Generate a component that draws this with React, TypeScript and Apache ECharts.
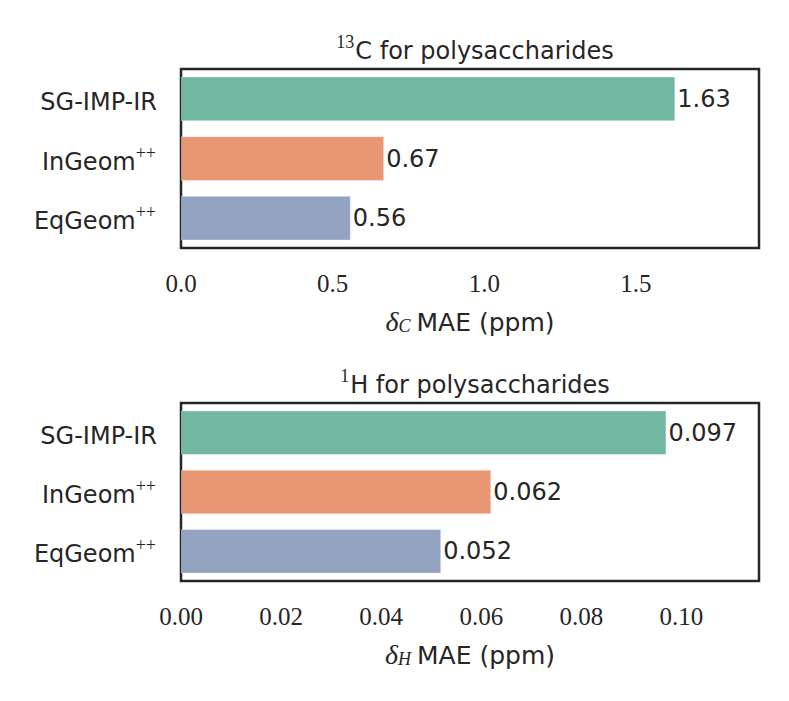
import React, { useEffect, useRef } from "react";
import * as echarts from "echarts";

const categories = ["SG-IMP-IR", "InGeom++", "EqGeom++"];
const carbonValues = [1.63, 0.67, 0.56];
const hydrogenValues = [0.097, 0.062, 0.052];
const barColors = ["#72b7a1", "#e99675", "#95a3c3"];
const carbonTitle = { sup: "13", text: "C for polysaccharides" };
const hydrogenTitle = { sup: "1", text: "H for polysaccharides" };
const carbonMax = 1.906;
const hydrogenMax = 0.1155;

const SANS = "DejaVu Sans";
const SERIF = "Liberation Serif";
const INK = "#262626";

export default function App() {
  const ref = useRef<HTMLDivElement>(null);
  useEffect(() => {
    if (!ref.current) return;
    const chart = echarts.init(ref.current, null, { renderer: "svg" });

    const supRich = {
      n: { fontFamily: SANS, fontSize: 24, fontWeight: "normal", color: INK, lineHeight: 30, verticalAlign: "bottom" },
      sup: { fontFamily: SERIF, fontSize: 18, fontWeight: "normal", color: INK, lineHeight: 30, verticalAlign: "top", padding: [0, 1, 0, 0] },
    };
    const nameRich = {
      d: { fontFamily: SERIF, fontStyle: "italic", fontSize: 28, color: INK, verticalAlign: "bottom", lineHeight: 30 },
      s: { fontFamily: SERIF, fontStyle: "italic", fontSize: 18, color: INK, verticalAlign: "bottom", lineHeight: 24, padding: [0, 6, 0, 0] },
      n: { fontFamily: SANS, fontSize: 25, color: INK, verticalAlign: "bottom", lineHeight: 30 },
    };

    const catFormatter = (v: string) =>
      v.endsWith("++") ? `{n|${v.slice(0, -2)}}{sup|++}` : `{n|${v}}`;

    const grids = [
      { left: 181, right: 30, top: 69, height: 179 },
      { left: 181, right: 30, top: 403, height: 178 },
    ].map((g) => ({ ...g, show: true, borderColor: INK, borderWidth: 2.5, backgroundColor: "#fff" }));

    const xAxis = [
      { max: carbonMax, interval: 0.5, dec: 1, sub: "C" },
      { max: hydrogenMax, interval: 0.02, dec: 2, sub: "H" },
    ].map((a, i) => ({
      type: "value",
      gridIndex: i,
      min: 0,
      max: a.max,
      interval: a.interval,
      splitLine: { show: false },
      axisLine: { show: false },
      axisTick: { show: false },
      axisLabel: {
        margin: 23,
        showMaxLabel: false,
        fontFamily: SERIF,
        fontSize: 25,
        color: INK,
        formatter: (v: number) => v.toFixed(a.dec),
      },
      name: `{d|δ}{s|${a.sub}}{n|MAE (ppm)}`,
      nameLocation: "middle",
      nameGap: 57,
      nameTextStyle: { rich: nameRich },
    }));

    const yAxis = [0, 1].map((i) => ({
      type: "category",
      gridIndex: i,
      data: categories,
      inverse: true,
      axisLine: { show: false },
      axisTick: { show: false },
      axisLabel: {
        margin: 24,
        formatter: catFormatter,
        rich: supRich,
      },
    }));

    const mkSeries = (vals: number[], i: number, dec: number) => ({
      type: "bar",
      xAxisIndex: i,
      yAxisIndex: i,
      barCategoryGap: "25%",
      data: vals.map((v, k) => ({
        value: v,
        itemStyle: { color: barColors[k], borderColor: "rgba(255,255,255,0.35)", borderWidth: 1 },
      })),
      label: {
        show: true,
        position: "right",
        distance: 2,
        fontFamily: SANS,
        fontSize: 24,
        color: INK,
        formatter: (p: any) => Number(p.value).toFixed(dec),
      },
    });

    chart.setOption({
      animation: false,
      backgroundColor: "#fff",
      title: [
        { t: carbonTitle, top: 28 },
        { t: hydrogenTitle, top: 362 },
      ].map((o) => ({
        text: `{sup|${o.t.sup}}{n|${o.t.text}}`,
        left: 470,
        textAlign: "center",
        top: o.top,
        textStyle: { fontWeight: "normal", rich: supRich },
      })),
      grid: grids,
      xAxis,
      yAxis,
      series: [mkSeries(carbonValues, 0, 2), mkSeries(hydrogenValues, 1, 3)],
    });
    return () => chart.dispose();
  }, []);
  return (
    <div
      ref={ref}
      style={{ position: "fixed", left: 0, top: 0, width: 789, height: 701, background: "#fff" }}
    />
  );
}
